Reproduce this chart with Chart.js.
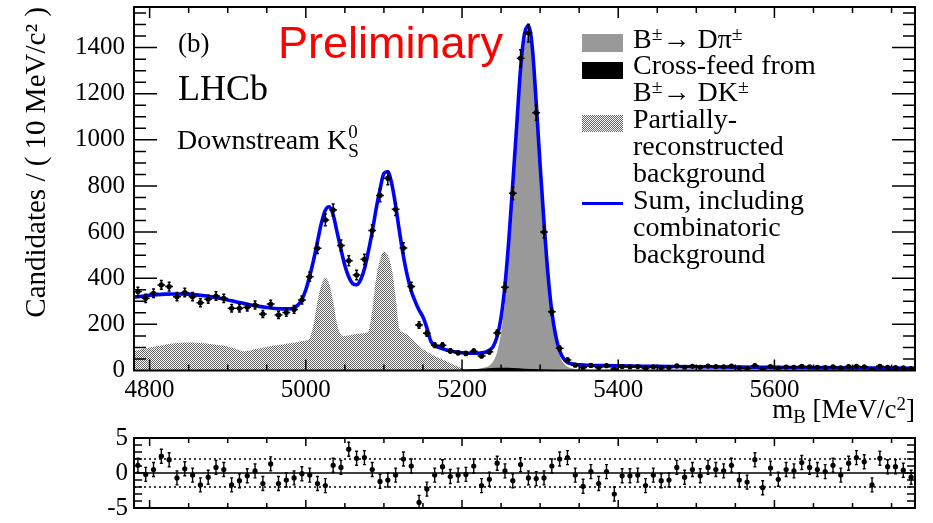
<!DOCTYPE html>
<html>
<head>
<meta charset="utf-8">
<script src="https://cdn.jsdelivr.net/npm/chart.js@4/dist/chart.umd.min.js"></script>
<style>
html,body{margin:0;padding:0;background:#fff;}
#wrap{position:relative;width:933px;height:523px;overflow:hidden;background:#fff;}
#wrap canvas{position:absolute;left:0;top:0;}
.t{position:absolute;white-space:nowrap;font-family:'Liberation Serif','Times New Roman',serif;color:#000;line-height:1;}
.t sup{font-size:0.7em;vertical-align:0.42em;line-height:0;}
.t sub{font-size:0.7em;vertical-align:-0.28em;line-height:0;}
.box{position:absolute;left:582px;width:41px;}
</style>
</head>
<body>
<div id="wrap">
<canvas id="main" width="933" height="523"></canvas>
<canvas id="pull" width="933" height="523"></canvas>

<div class="t" style="left:278px;top:20px;font-family:'Liberation Sans',Arial,sans-serif;font-size:45px;color:#ff0000;">Preliminary</div>
<div class="t" style="left:178px;top:30px;font-size:27px;">(b)</div>
<div class="t" style="left:178px;top:70px;font-size:36px;">LHCb</div>
<div class="t" style="left:177px;top:120.5px;font-size:28px;">Downstream K<span style="position:relative;display:inline-block;width:14px;height:28px;vertical-align:baseline;"><span style="position:absolute;left:1px;top:1px;font-size:19px;line-height:1;">0</span><span style="position:absolute;left:1px;top:20px;font-size:19px;line-height:1;">S</span></span></div>

<div class="box" style="top:34px;height:18px;background:#999999;"></div>
<div class="box" style="top:62px;height:17px;background:#000000;"></div>
<div class="box" id="patbox" style="top:115px;height:17px;"></div>
<div class="box" style="top:201.5px;height:3.5px;background:#0000ff;"></div>

<div class="t" style="left:633px;top:24.5px;font-size:28px;">B<sup>±</sup>→ Dπ<sup>±</sup></div>
<div class="t" style="left:633px;top:51.4px;font-size:28px;">Cross-feed from</div>
<div class="t" style="left:633px;top:78.3px;font-size:28px;">B<sup>±</sup>→ DK<sup>±</sup></div>
<div class="t" style="left:633px;top:105.2px;font-size:28px;">Partially-</div>
<div class="t" style="left:633px;top:132.1px;font-size:28px;">reconstructed</div>
<div class="t" style="left:633px;top:159px;font-size:28px;">background</div>
<div class="t" style="left:633px;top:185.9px;font-size:28px;">Sum, including</div>
<div class="t" style="left:633px;top:212.8px;font-size:28px;">combinatoric</div>
<div class="t" style="left:633px;top:239.7px;font-size:28px;">background</div>

<div class="t" style="right:18px;top:396.4px;font-size:27px;">m<sub>B</sub> [MeV/c<sup>2</sup>]</div>
</div>

<script>
// ---------------- data ----------------
const massBins = [4785,4795,4805,4815,4825,4835,4845,4855,4865,4875,
  4885,4895,4905,4915,4925,4935,4945,4955,4965,4975,
  4985,4995,5005,5015,5025,5035,5045,5055,5065,5075,
  5085,5095,5105,5115,5125,5135,5145,5155,5165,5175,
  5185,5195,5205,5215,5225,5235,5245,5255,5265,5275,
  5285,5295,5305,5315,5325,5335,5345,5355,5365,5375,
  5385,5395,5405,5415,5425,5435,5445,5455,5465,5475,
  5485,5495,5505,5515,5525,5535,5545,5555,5565,5575,
  5585,5595,5605,5615,5625,5635,5645,5655,5665,5675,
  5685,5695,5705,5715,5725,5735,5745,5755,5765,5775];

const counts = [342,313,335,371,364,320,338,320,294,309,
  323,313,270,270,274,284,245,288,241,251,
  265,306,407,530,653,696,542,476,414,482,
  607,759,834,699,531,364,197,161,110,110,
  85,77,74,84,63,81,163,361,768,1354,
  1463,1118,600,255,96,46,23,13,22,13,
  21,6,17,16,17,10,16,12,13,20,
  14,18,14,19,17,16,19,11,9,21,
  6,17,10,15,14,18,16,14,13,16,
  11,17,18,16,5,18,14,13,11,8];

const pullValues = [1.1,-0.2,0.5,2.4,1.9,-0.7,0.6,-0.3,-1.7,-0.6,
  0.8,0.5,-1.7,-1.1,-0.4,0.3,-1.5,1.3,-1.5,-1.0,
  -0.7,-0.1,-0.3,-1.5,-1.8,1.1,0.8,3.4,2.1,2.2,
  0.5,-1.2,-1.0,-0.3,2.0,1.0,-4.2,-2.3,-0.3,0.9,
  -0.5,-0.3,-0.2,1.0,-1.8,-0.9,1.4,0.3,-1.1,1.2,
  -0.7,-0.8,-0.7,1.0,2.0,2.2,-0.3,-1.9,0.2,-1.5,
  0.2,-3.0,-0.4,-0.4,-0.3,-1.8,-0.3,-1.1,-1.0,0.8,
  -0.6,0.5,-0.4,0.8,0.5,0.3,1.1,-1.0,-1.3,1.9,
  -2.1,0.7,-0.9,0.5,0.3,1.5,0.8,0.5,0.2,1.1,
  -0.3,1.4,2.2,1.6,-1.7,2.1,0.9,0.9,0.4,-0.6];

const fitMass = [4780,4790,4800,4810,4820,4830,4840,4850,4860,4870,
  4880,4890,4900,4910,4920,4930,4940,4950,4960,4970,
  4980,4985,4990,4995,5000,5005,5010,5015,5020,5025,
  5030,5035,5040,5045,5050,5055,5060,5065,5070,5075,
  5080,5085,5090,5095,5100,5105,5110,5115,5120,5125,
  5130,5135,5140,5145,5150,5155,5160,5165,5170,5180,
  5190,5200,5210,5220,5230,5235,5240,5245,5250,5255,
  5260,5265,5270,5275,5280,5285,5290,5295,5300,5305,
  5310,5315,5320,5325,5330,5335,5340,5345,5350,5360,
  5380,5400,5450,5500,5550,5600,5650,5700,5750,5780];
const fitValue = [318,322,326,329,331,332,332,331,328,324,
  319,313,306,298,291,284,278,273,269,267,
  268,272,284,308,350,410,480,560,640,695,
  710,675,600,525,455,405,377,372,392,440,
  515,600,700,785,855,862,810,715,600,495,
  410,345,300,262,232,185,128,108,100,89,
  81,77,75,75,79,88,105,148,230,370,
  570,810,1060,1310,1460,1495,1400,1160,890,640,
  420,255,150,85,52,35,29,26,25,23,
  21,20,18,16,14.5,13.5,12.5,11.5,10.5,10];

const sigMass = [5190,5200,5210,5220,5230,5235,5240,5245,5250,5255,
  5260,5265,5270,5275,5280,5285,5290,5295,5300,5305,
  5310,5315,5320,5325,5330,5335,5340,5350,5360,5380,5400];
const sigValue = [0,1,3,6,14,22,40,80,165,305,
  505,745,1000,1255,1410,1450,1360,1125,860,612,
  395,232,128,64,32,16,10,5,3,1,0];

const xfMass = [5170,5190,5210,5230,5245,5255,5265,5280,5295,5310,5330,5350];
const xfValue = [0,2,5,9,12,12,11,8,5,3,1,0];

const prMass = [4780,4790,4800,4810,4820,4830,4840,4850,4860,4870,
  4880,4890,4900,4910,4920,4930,4940,4950,4960,4970,
  4980,4990,5000,5005,5010,5015,5020,5025,5030,5035,
  5040,5045,5050,5055,5060,5065,5070,5075,5080,5085,
  5090,5095,5100,5105,5110,5115,5120,5125,5130,5135,
  5140,5145,5150,5160,5170,5180,5190,5200,5210,5220];
const prValue = [85,92,100,106,112,117,120,121,120,118,
  114,110,104,94,83,88,96,102,108,113,
  118,124,130,140,200,300,370,402,375,300,
  200,155,150,152,155,158,160,163,170,260,
  400,480,515,500,440,320,180,165,155,140,
  125,108,92,72,55,40,24,10,2,0];

const xTickValues = [4800,5000,5200,5400,5600];
const yTickValues = [0,200,400,600,800,1000,1200,1400];
const pullTickValues = [-5,0,5];

// ---------------- helpers ----------------
const SERIF = "'Liberation Serif','Times New Roman',serif";

function makeTile(){
  const t = document.createElement('canvas');
  t.width = 2; t.height = 2;
  const c = t.getContext('2d');
  c.fillStyle = 'rgba(0,0,0,0.62)';
  c.fillRect(0,0,1,1);
  c.fillRect(1,1,1,1);
  return t;
}
const tile = makeTile();
const mainCtx = document.getElementById('main').getContext('2d');
const pattern = mainCtx.createPattern(tile,'repeat');
const pb = document.getElementById('patbox');
pb.style.backgroundImage = 'url(' + tile.toDataURL() + ')';
pb.style.imageRendering = 'pixelated';

function frameTicksPlugin(id, cfg){
  return {
    id: id,
    afterDraw(chart){
      const ctx = chart.ctx, a = chart.chartArea;
      const xs = chart.scales.x, ys = chart.scales.y;
      ctx.save();
      ctx.strokeStyle = '#000';
      ctx.lineWidth = 1.5;
      ctx.beginPath();
      for (let v = cfg.xMin; v <= cfg.xMax + 1e-9; v += cfg.xMinor){
        const major = Math.abs(v / cfg.xMajor - Math.round(v / cfg.xMajor)) < 1e-6;
        const L = major ? cfg.xMajLen : cfg.xMinLen;
        const p = xs.getPixelForValue(v);
        if (p <= a.left + 1 || p >= a.right - 1) continue;
        ctx.moveTo(p, a.bottom); ctx.lineTo(p, a.bottom - L);
        ctx.moveTo(p, a.top); ctx.lineTo(p, a.top + L);
      }
      for (let v = cfg.yMin; v <= cfg.yMax + 1e-9; v += cfg.yMinor){
        const major = Math.abs(v / cfg.yMajor - Math.round(v / cfg.yMajor)) < 1e-6;
        const L = major ? cfg.yMajLen : cfg.yMinLen;
        const p = ys.getPixelForValue(v);
        if (p <= a.top + 1 || p >= a.bottom - 1) continue;
        ctx.moveTo(a.left, p); ctx.lineTo(a.left + L, p);
        ctx.moveTo(a.right, p); ctx.lineTo(a.right - L, p);
      }
      ctx.stroke();
      ctx.lineWidth = 2;
      ctx.strokeRect(a.left, a.top, a.right - a.left, a.bottom - a.top);
      ctx.restore();
    }
  };
}

function errorBarsPlugin(id, cfg){
  return {
    id: id,
    afterDatasetsDraw(chart){
      const ctx = chart.ctx, a = chart.chartArea;
      const xs = chart.scales.x, ys = chart.scales.y;
      const ds = chart.data.datasets[cfg.datasetIndex];
      ctx.save();
      ctx.beginPath();
      ctx.rect(a.left, a.top, a.right - a.left, a.bottom - a.top);
      ctx.clip();
      ctx.strokeStyle = '#000';
      ctx.lineWidth = cfg.lineWidth;
      ctx.beginPath();
      ds.data.forEach(p => {
        const e = cfg.poisson ? Math.sqrt(Math.max(p.y, 0)) : cfg.err;
        const px = xs.getPixelForValue(p.x);
        const py = ys.getPixelForValue(p.y);
        const y1 = ys.getPixelForValue(p.y - e);
        const y2 = ys.getPixelForValue(p.y + e);
        ctx.moveTo(px, y1); ctx.lineTo(px, y2);
        ctx.moveTo(px - cfg.cap, y1); ctx.lineTo(px + cfg.cap, y1);
        ctx.moveTo(px - cfg.cap, y2); ctx.lineTo(px + cfg.cap, y2);
        if (cfg.xHalf){
          ctx.moveTo(xs.getPixelForValue(p.x - cfg.xHalf), py);
          ctx.lineTo(xs.getPixelForValue(p.x + cfg.xHalf), py);
        }
      });
      ctx.stroke();
      ctx.restore();
    }
  };
}

function pullLinesPlugin(){
  return {
    id: 'pullLines',
    beforeDatasetsDraw(chart){
      const ctx = chart.ctx, a = chart.chartArea, ys = chart.scales.y;
      ctx.save();
      ctx.strokeStyle = '#000';
      ctx.lineWidth = 1.5;
      ctx.beginPath();
      const y0 = ys.getPixelForValue(0);
      ctx.moveTo(a.left, y0); ctx.lineTo(a.right, y0);
      ctx.stroke();
      ctx.setLineDash([2, 3]);
      ctx.lineWidth = 1.3;
      ctx.beginPath();
      [-2, 2].forEach(v => {
        const p = ys.getPixelForValue(v);
        ctx.moveTo(a.left, p); ctx.lineTo(a.right, p);
      });
      ctx.stroke();
      ctx.restore();
    }
  };
}

const xy = (xsArr, ysArr) => xsArr.map((x, i) => ({x: x, y: ysArr[i]}));

// ---------------- main chart ----------------
new Chart(document.getElementById('main'), {
  type: 'line',
  data: {
    datasets: [
      {label: 'Data', data: xy(massBins, counts), showLine: false,
       pointRadius: 2.6, pointBackgroundColor: '#000', pointBorderWidth: 0, order: 0},
      {label: 'Sum, including combinatoric background', data: xy(fitMass, fitValue),
       borderColor: '#0000ff', borderWidth: 3.6, pointRadius: 0, fill: false,
       cubicInterpolationMode: 'monotone', order: 1},
      {label: 'Cross-feed from B± → DK±', data: xy(xfMass, xfValue),
       borderColor: 'rgba(0,0,0,0)', borderWidth: 0, backgroundColor: '#000000',
       fill: 'origin', pointRadius: 0, cubicInterpolationMode: 'monotone', order: 2},
      {label: 'B± → Dπ±', data: xy(sigMass, sigValue),
       borderColor: 'rgba(0,0,0,0)', borderWidth: 0, backgroundColor: '#999999',
       fill: 'origin', pointRadius: 0, cubicInterpolationMode: 'monotone', order: 3},
      {label: 'Partially-reconstructed background', data: xy(prMass, prValue),
       borderColor: 'rgba(0,0,0,0)', borderWidth: 0, backgroundColor: pattern,
       fill: 'origin', pointRadius: 0, cubicInterpolationMode: 'monotone', order: 4}
    ]
  },
  options: {
    responsive: false, animation: false, devicePixelRatio: 1,
    layout: {padding: {left: 0, right: 18, top: 7, bottom: 100.5}},
    plugins: {legend: {display: false}, tooltip: {enabled: false}},
    scales: {
      x: {
        type: 'linear', min: 4780, max: 5780,
        afterBuildTicks: s => { s.ticks = xTickValues.map(v => ({value: v})); },
        afterFit: s => { s.height = 52; s.paddingLeft = 0; s.paddingRight = 0; },
        ticks: {font: {family: SERIF, size: 25}, color: '#000', padding: 5,
                maxRotation: 0, autoSkip: false, callback: v => String(v)},
        grid: {display: false, drawTicks: false},
        border: {display: false}
      },
      y: {
        type: 'linear', min: 0, max: 1576,
        afterBuildTicks: s => { s.ticks = yTickValues.map(v => ({value: v})); },
        afterFit: s => { s.width = 134; s.paddingTop = 0; s.paddingBottom = 0; },
        ticks: {font: {family: SERIF, size: 25}, color: '#000', padding: 9,
                autoSkip: false, callback: v => String(v)},
        grid: {display: false, drawTicks: false},
        border: {display: false},
        title: {display: true, text: 'Candidates / ( 10 MeV/c² )', align: 'end',
                color: '#000', font: {family: SERIF, size: 29},
                padding: {top: 20, bottom: 0}}
      }
    }
  },
  plugins: [
    errorBarsPlugin('mainErr', {datasetIndex: 0, poisson: true, xHalf: 5, lineWidth: 1.5, cap: 1.5}),
    frameTicksPlugin('mainFrame', {xMin: 4800, xMax: 5750, xMinor: 50, xMajor: 200, xMajLen: 11, xMinLen: 6,
                                   yMin: 0, yMax: 1550, yMinor: 50, yMajor: 200, yMajLen: 23, yMinLen: 12})
  ]
});

// ---------------- pull chart ----------------
new Chart(document.getElementById('pull'), {
  type: 'line',
  data: {
    datasets: [
      {label: 'Pull', data: xy(massBins, pullValues), showLine: false,
       pointRadius: 2.6, pointBackgroundColor: '#000', pointBorderWidth: 0}
    ]
  },
  options: {
    responsive: false, animation: false, devicePixelRatio: 1,
    layout: {padding: {left: 0, right: 18, top: 438, bottom: 15}},
    plugins: {legend: {display: false}, tooltip: {enabled: false}},
    scales: {
      x: {type: 'linear', min: 4780, max: 5780, display: false},
      y: {
        type: 'linear', min: -5, max: 5,
        afterBuildTicks: s => { s.ticks = pullTickValues.map(v => ({value: v})); },
        afterFit: s => { s.width = 134; s.paddingTop = 0; s.paddingBottom = 0; },
        ticks: {font: {family: SERIF, size: 25}, color: '#000', padding: 6,
                autoSkip: false, callback: v => String(v)},
        grid: {display: false, drawTicks: false},
        border: {display: false}
      }
    }
  },
  plugins: [
    pullLinesPlugin(),
    errorBarsPlugin('pullErr', {datasetIndex: 0, poisson: false, err: 1, xHalf: 0, lineWidth: 1.4, cap: 1.5}),
    frameTicksPlugin('pullFrame', {xMin: 4800, xMax: 5750, xMinor: 50, xMajor: 200, xMajLen: 8, xMinLen: 5,
                                   yMin: -5, yMax: 5, yMinor: 1, yMajor: 5, yMajLen: 11, yMinLen: 8})
  ]
});
</script>
</body>
</html>
